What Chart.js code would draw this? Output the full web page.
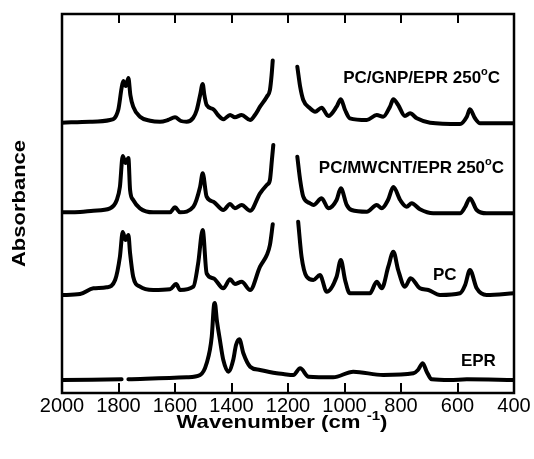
<!DOCTYPE html>
<html>
<head>
<meta charset="utf-8">
<script src="https://cdn.jsdelivr.net/npm/chart.js@4.4.1/dist/chart.umd.min.js"></script>
<style>
  html, body { margin: 0; padding: 0; background: #fff; }
  canvas { display: block; }
</style>
</head>
<body>
<canvas id="c" width="534" height="459"></canvas>
<script>
// ---- Data (wavenumber in cm^-1, absorbance in arbitrary offset units; null = missing) ----
const xTicks = [2000, 1800, 1600, 1400, 1200, 1000, 800, 600, 400];

const gnpWn  = [2000,1901,1830,1801,1789,1783,1774,1765,1758,1748,1724,1688,1653,1625,1600,1579,1559,1536,1523,1511,1502,1496,1488,1464,1448,1429,1405,1388,1364,1334,1317,1299,1275,1264,1258,1254,1210,1167,1163,1157,1146,1122,1104,1081,1057,1028,1013,998,981,921,886,863,839,827,810,786,768,744,697,591,567,556,538,520,400];
const gnpAbs = [270.3,271.3,273,283,305,312,307,315,298,286.3,276.3,272.3,271.3,273,275.7,272,271.3,275,283,298,309,298,288,283.7,278,273.7,278,275.7,278,273,278,286.3,296.3,303,318,332.5,null,326.3,318,306.3,293,284.7,281.3,285.3,277,286.3,293.7,283,274.7,273,278,276.3,286.3,293.7,288,277,279.7,274.7,270.3,269,276.3,283.7,274.7,269.7,269.7];

const mwWn  = [2000,1936,1889,1830,1806,1795,1785,1775,1765,1759,1748,1724,1677,1618,1600,1582,1535,1511,1502,1488,1464,1429,1405,1388,1364,1334,1299,1275,1264,1257,1252,1210,1167,1157,1146,1122,1110,1081,1057,1028,1013,992,975,921,886,868,846,827,803,780,762,733,686,591,573,556,532,497,400];
const mwAbs = [180.7,181,182.3,184.7,193,206.3,237,230,235,203,193,184.7,180.7,180.7,185.7,180.7,186.3,206.3,219.7,196.3,191.3,183,189,184.7,188,182.3,199.7,208,213,233,248,null,236.3,213,196.3,189.7,188,194.7,184.7,193,204.7,188,183,181.3,188,184.7,193,206,193,186.3,189.7,183.7,179.7,179.7,186,194.7,183,179.7,179.7];

const pcWn  = [2000,1936,1889,1842,1812,1795,1785,1775,1765,1759,1748,1724,1677,1618,1596,1582,1535,1518,1502,1488,1464,1429,1405,1388,1364,1334,1299,1275,1264,1254,1210,1164,1152,1134,1110,1087,1063,1028,1013,998,981,910,886,868,845,827,810,786,766,733,703,662,591,573,556,532,497,400];
const pcAbs = [98,99,104.7,105.7,113,136.3,161,153,158,139.7,116.3,106.3,103,103.7,109,103,106.3,129.7,163,119.7,114.7,104.7,113.7,109,111.3,103,126.3,138,148,168.7,null,171.3,136.3,116.3,113,118,101.3,116.3,133,113,99.7,99.7,111.3,104.7,126.3,141.3,123,106.3,114.7,104.7,103,98,99.7,108,123,104.7,98,99.7];

const eprWn  = [2000,1789,1780,1765,1559,1511,1488,1470,1462,1459,1452,1441,1429,1411,1394,1384,1372,1358,1334,1299,1240,1217,1181,1157,1127,1040,969,863,756,740,723,709,691,627,567,400];
const eprAbs = [13,13.7,null,13.7,15.7,18,29.7,56.3,88,90,73,53,33,21.3,33,48,53.7,39.7,26.3,23,19.7,19,18,24.7,16.3,15.7,21.3,18,19.7,23,29.7,21.3,13.7,13,13.7,13];

const seriesNames = ['PC/GNP/EPR 250', 'PC/MWCNT/EPR 250', 'PC', 'EPR'];
const xTitle = 'Wavenumber (cm ';
const xTitleSup = '-1';
const yTitle = 'Absorbance';

function pairs(wn, ab) { return wn.map((w, i) => ({ x: w, y: ab[i] })); }

const FONT = '"Liberation Sans", Arial, Helvetica, sans-serif';

function lineDs(label, wn, ab) {
  return {
    label, data: pairs(wn, ab),
    borderColor: '#000', backgroundColor: '#000',
    borderWidth: 4, pointRadius: 0, tension: 0.35,
    cubicInterpolationMode: 'monotone', spanGaps: false, fill: false,
    borderCapStyle: 'round', borderJoinStyle: 'round'
  };
}

// Series labels, anchored in data coordinates: [name, wavenumber, absorbance, degree?]
const labelAnchors = [
  [seriesNames[0], 727, 315, true],
  [seriesNames[1], 763, 225, true],
  [seriesNames[2], 645, 118, false],
  [seriesNames[3], 526, 31.5, false]
];

const decor = {
  id: 'decor',
  afterDraw(chart) {
    const { ctx, chartArea: a, scales } = chart;
    const xs = scales.x, ys = scales.y;
    ctx.save();
    // frame
    ctx.strokeStyle = '#000';
    ctx.lineWidth = 2.5;
    ctx.strokeRect(a.left, a.top, a.right - a.left, a.bottom - a.top);
    // inward ticks top and bottom
    ctx.lineWidth = 2;
    xTicks.forEach(v => {
      const px = Math.round(xs.getPixelForValue(v));
      ctx.beginPath();
      ctx.moveTo(px, a.bottom); ctx.lineTo(px, a.bottom - 10);
      ctx.moveTo(px, a.top); ctx.lineTo(px, a.top + 9);
      ctx.stroke();
    });
    // series labels
    ctx.fillStyle = '#000';
    ctx.textBaseline = 'middle';
    const LF = 'bold 17px ' + FONT, SF = 'bold 11px ' + FONT;
    labelAnchors.forEach(([name, w, v, deg]) => {
      const cx = xs.getPixelForValue(w), cy = ys.getPixelForValue(v);
      ctx.font = LF;
      const w1 = ctx.measureText(name).width;
      let total = w1, wo = 0, wc = 0;
      if (deg) {
        ctx.font = SF; wo = ctx.measureText('o').width;
        ctx.font = LF; wc = ctx.measureText('C').width;
        total += wo + wc;
      }
      const x0 = cx - total / 2;
      ctx.textAlign = 'left';
      ctx.font = LF;
      ctx.fillText(name, x0, cy);
      if (deg) {
        ctx.font = SF;
        ctx.fillText('o', x0 + w1, cy - 6);
        ctx.font = LF;
        ctx.fillText('C', x0 + w1 + wo, cy);
      }
    });
    // x title (stretched horizontally to span the reference width)
    ctx.textBaseline = 'alphabetic';
    ctx.textAlign = 'left';
    const TF = 'bold 19px ' + FONT, TS = 'bold 13px ' + FONT;
    ctx.font = TF; const t1 = ctx.measureText(xTitle).width;
    ctx.font = TS; const t2 = ctx.measureText(xTitleSup).width;
    ctx.font = TF; const t3 = ctx.measureText(')').width;
    const natural = t1 + t2 + t3, target = 211, sx = target / natural;
    ctx.save();
    ctx.translate(282 - target / 2, 428);
    ctx.scale(sx, 1);
    ctx.font = TF; ctx.fillText(xTitle, 0, 0);
    ctx.font = TS; ctx.fillText(xTitleSup, t1, -8);
    ctx.font = TF; ctx.fillText(')', t1 + t2, 0);
    ctx.restore();
    // y title
    ctx.translate(20, (a.top + a.bottom) / 2);
    ctx.rotate(-Math.PI / 2);
    ctx.textAlign = 'center';
    ctx.textBaseline = 'middle';
    ctx.font = 'bold 19px ' + FONT;
    const yw = ctx.measureText(yTitle).width;
    ctx.scale(127 / yw, 1);
    ctx.fillText(yTitle, 0, 0);
    ctx.restore();
  }
};

new Chart(document.getElementById('c'), {
  type: 'line',
  data: {
    datasets: [
      lineDs(seriesNames[0], gnpWn, gnpAbs),
      lineDs(seriesNames[1], mwWn, mwAbs),
      lineDs(seriesNames[2], pcWn, pcAbs),
      lineDs(seriesNames[3], eprWn, eprAbs)
    ]
  },
  options: {
    responsive: false,
    animation: false,
    events: [],
    layout: { padding: { left: 62, right: 20, top: 14, bottom: 0 } },
    plugins: { legend: { display: false }, tooltip: { enabled: false } },
    scales: {
      x: {
        type: 'linear', reverse: true, min: 400, max: 2000,
        afterBuildTicks: s => { s.ticks = xTicks.map(v => ({ value: v })); },
        afterFit: s => { s.height = 66; },
        grid: { display: false, drawTicks: false },
        border: { display: false },
        ticks: { color: '#000', padding: 1, maxRotation: 0, autoSkip: false,
                 callback: v => String(v),
                 font: { family: FONT, size: 20 } }
      },
      y: {
        type: 'linear', min: 0, max: 379, display: false
      }
    }
  },
  plugins: [decor]
});
</script>
</body>
</html>
